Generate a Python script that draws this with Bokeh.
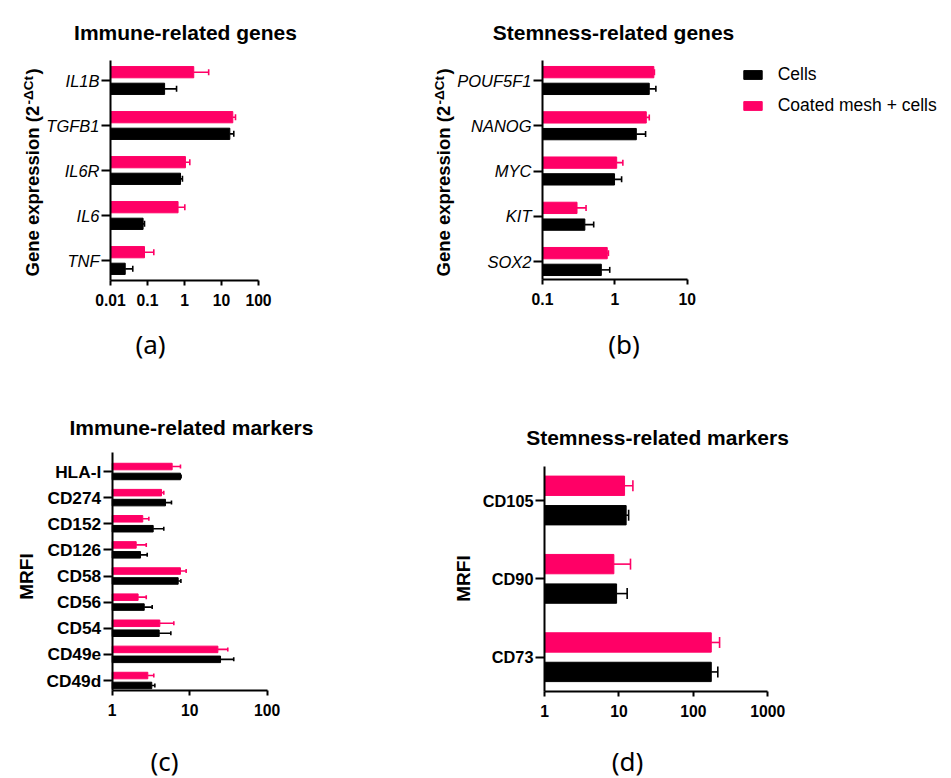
import math
from bokeh.plotting import figure
from bokeh.layouts import column, row
from bokeh.models import (ColumnDataSource, Range1d, FixedTicker, PrintfTickFormatter,
                          Whisker, TeeHead, Label, Legend, LegendItem)
from bokeh.transform import dodge
from bokeh.embed import file_html
from bokeh.resources import INLINE

PINK = "#ff0066"
BLACK = "#000000"
FONT = "Liberation Sans"

# ---------------- data ----------------
# (a) Immune-related genes (top to bottom)
genes_a = ["IL1B", "TGFB1", "IL6R", "IL6", "TNF"]
cells_a = [0.29, 16.8, 0.78, 0.076, 0.025]
cells_a_err = [0.32, 4.7, 0.10, 0.007, 0.015]
coated_a = [1.78, 20.2, 1.06, 0.67, 0.083]
coated_a_err = [2.72, 3.7, 0.33, 0.35, 0.065]
ticks_a = [0.01, 0.1, 1, 10, 100]
tick_labels_a = ["0.01", "0.1", "1", "10", "100"]

# (b) Stemness-related genes
genes_b = ["POUF5F1", "NANOG", "MYC", "KIT", "SOX2"]
cells_b = [2.99, 1.98, 0.99, 0.385, 0.65]
cells_b_err = [0.70, 0.68, 0.25, 0.125, 0.20]
coated_b = [3.46, 2.72, 1.06, 0.30, 0.785]
coated_b_err = [0.06, 0.27, 0.23, 0.10, 0.03]
ticks_b = [0.1, 1, 10]
tick_labels_b = ["0.1", "1", "10"]

# (c) Immune-related markers
markers_c = ["HLA-I", "CD274", "CD152", "CD126", "CD58", "CD56", "CD54", "CD49e", "CD49d"]
cells_c = [7.6, 4.87, 3.38, 2.32, 7.1, 2.59, 4.04, 25.0, 3.24]
cells_c_err = [0.15, 0.95, 1.25, 0.51, 0.6, 0.69, 1.67, 12.0, 0.31]
coated_c = [5.94, 4.33, 2.48, 2.04, 7.6, 2.16, 4.12, 23.1, 2.88]
coated_c_err = [1.66, 0.30, 0.49, 0.71, 1.4, 0.59, 2.12, 7.9, 0.56]
ticks_c = [1, 10, 100]
tick_labels_c = ["1", "10", "100"]

# (d) Stemness-related markers
markers_d = ["CD105", "CD90", "CD73"]
cells_d = [12.5, 9.3, 174.0]
cells_d_err = [1.0, 3.6, 39.0]
coated_d = [11.9, 8.55, 174.0]
coated_d_err = [3.5, 5.75, 51.0]
ticks_d = [1, 10, 100, 1000]
tick_labels_d = ["1", "10", "100", "1000"]

series_names = ["Cells", "Coated mesh + cells"]


def make_panel(cats, cells, cells_err, coated, coated_err, ticks, tick_labels,
               canvas, xpix, cpix, apix, cat_style, cat_size, cap, bar_h, off):
    """canvas=(X0,Y0,W,H) page px; xpix=(px of first tick, px of last tick);
    cpix=(px of first category, px of last category); apix=(axis top px, axis bottom px)."""
    X0, Y0, W, H = canvas
    lo, hi = ticks[0], ticks[-1]
    ppd = (xpix[1] - xpix[0]) / (math.log10(hi) - math.log10(lo))
    x_start = 10 ** (math.log10(lo) - (xpix[0] - X0) / ppd)
    x_end = 10 ** (math.log10(hi) + (X0 + W - xpix[1]) / ppd)
    n = len(cats)
    sp = (cpix[1] - cpix[0]) / (n - 1)
    y_bottom = (Y0 + H - cpix[0]) / sp
    y_top = (Y0 - cpix[0]) / sp
    ax_top = (apix[0] - cpix[0]) / sp
    ax_bot = (apix[1] - cpix[0]) / sp

    p = figure(width=W, height=H, x_axis_type="log",
               x_range=Range1d(x_start, x_end), y_range=Range1d(y_bottom, y_top),
               output_backend="svg", toolbar_location=None, title=None,
               min_border_left=0, min_border_right=0, min_border_top=0, min_border_bottom=0)
    p.outline_line_color = None
    p.grid.visible = False
    p.background_fill_color = "white"
    p.border_fill_color = "white"

    idx = list(range(n))
    renderers = []
    for vals, errs, color, shift in [(cells, cells_err, BLACK, off),
                                     (coated, coated_err, PINK, -off)]:
        src = ColumnDataSource(dict(y=idx, val=vals,
                                    up=[v + e for v, e in zip(vals, errs)]))
        r = p.hbar(y=dodge("y", shift), height=bar_h, left=lo, right="val",
                   source=src, fill_color=color, line_color=color)
        renderers.append(r)
        w = Whisker(base=dodge("y", shift), lower="val", upper="up",
                    dimension="width", source=src, line_color=color, line_width=1.6,
                    upper_head=TeeHead(size=cap, line_color=color, line_width=1.6),
                    lower_head=None, level="glyph")
        p.add_layout(w)

    xa = p.xaxis[0]
    ya = p.yaxis[0]
    for ax in (xa, ya):
        ax.axis_line_width = 2
        ax.axis_line_color = "black"
        ax.major_tick_line_width = 2
        ax.major_tick_line_color = "black"
        ax.major_tick_in = 0
        ax.minor_tick_line_color = None
        ax.major_label_text_color = "black"
        ax.major_label_text_font = FONT
        ax.axis_label = None

    xa.ticker = FixedTicker(ticks=ticks, minor_ticks=[])
    xa.formatter = PrintfTickFormatter(format="%g")
    xa.major_label_overrides = {t: l for t, l in zip(ticks, tick_labels)}
    xa.fixed_location = ax_bot
    xa.bounds = (lo, hi)
    xa.major_tick_out = 5
    xa.major_label_standoff = 8
    xa.major_label_text_font_size = "15.7px"
    xa.major_label_text_font_style = "bold"

    ya.ticker = FixedTicker(ticks=idx, minor_ticks=[])
    ya.major_label_overrides = {i: c for i, c in zip(idx, cats)}
    ya.fixed_location = lo
    ya.bounds = (ax_top, ax_bot)
    ya.major_tick_out = 9
    ya.major_label_standoff = 2
    ya.major_label_text_font_size = cat_size
    ya.major_label_text_font_style = cat_style
    return p, renderers


def add_text(p, canvas, X, Y, text, size, style="normal", font=FONT,
             align="center", baseline="middle", angle=0.0):
    X0, Y0, W, H = canvas
    p.add_layout(Label(x=X - X0, y=(Y0 + H) - Y, x_units="screen", y_units="screen",
                       text=text, text_font=font, text_font_size=size,
                       text_font_style=style, text_align=align,
                       text_baseline=baseline, angle=angle, text_color="black"))


UP = math.pi / 2
CA = (0, 0, 423, 393)
CB = (423, 0, 527, 393)
CC = (0, 393, 423, 384)
CD = (423, 393, 527, 384)

# ---- (a)
pa, _ = make_panel(genes_a, cells_a, cells_a_err, coated_a, coated_a_err, ticks_a, tick_labels_a,
                   CA, (110, 258), (80, 260), (60, 280), "italic", "16.5px", 6, 0.25, 0.185)
add_text(pa, CA, 185, 32, "Immune-related genes", "21px", "bold", baseline="alphabetic")
add_text(pa, CA, 31.5, 276, "Gene expression (2", "18.5px", "bold", align="left", angle=UP)
add_text(pa, CA, 27.5, 104, "-ΔCt", "13.5px", "bold", align="left", angle=UP)
add_text(pa, CA, 31.5, 74, ")", "18.5px", "bold", align="left", angle=UP)
add_text(pa, CA, 150, 343, "(a)", "26px", font="Noto Sans")

# ---- (b)
pb, rb = make_panel(genes_b, cells_b, cells_b_err, coated_b, coated_b_err, ticks_b, tick_labels_b,
                    CB, (542, 686.7), (80, 261), (60, 279), "italic", "16.5px", 6, 0.25, 0.185)
add_text(pb, CB, 613, 32, "Stemness-related genes", "21px", "bold", baseline="alphabetic")
add_text(pb, CB, 443, 276, "Gene expression (2", "18.5px", "bold", align="left", angle=UP)
add_text(pb, CB, 439, 104, "-ΔCt", "13.5px", "bold", align="left", angle=UP)
add_text(pb, CB, 443, 74, ")", "18.5px", "bold", align="left", angle=UP)
add_text(pb, CB, 623.5, 343, "(b)", "26px", font="Noto Sans")
legend = Legend(items=[LegendItem(label=series_names[0], renderers=[rb[0]]),
                       LegendItem(label=series_names[1], renderers=[rb[1]])],
                location=(740.7 - CB[0], CB[1] + CB[3] - 115.5), orientation="vertical",
                border_line_color=None, background_fill_alpha=0.0,
                padding=0, margin=0, glyph_width=23, glyph_height=11,
                label_standoff=14, spacing=10, label_height=20,
                label_text_font=FONT, label_text_font_size="17.5px",
                label_text_color="black")
pb.add_layout(legend)

# ---- (c)
pc, _ = make_panel(markers_c, cells_c, cells_c_err, coated_c, coated_c_err, ticks_c, tick_labels_c,
                   CC, (111.7, 266.7), (471, 680), (452, 690), "bold", "17.3px", 4, 0.25, 0.19)
add_text(pc, CC, 191, 427, "Immune-related markers", "21px", "bold", baseline="alphabetic")
add_text(pc, CC, 26, 576, "MRFI", "19px", "bold", angle=UP)
add_text(pc, CC, 164, 760, "(c)", "26px", font="Noto Sans")

# ---- (d)
pd_, _ = make_panel(markers_d, cells_d, cells_d_err, coated_d, coated_d_err, ticks_d, tick_labels_d,
                    CD, (544, 767.3), (500, 656.7), (466, 691), "bold", "16.3px", 11, 0.247, 0.188)
add_text(pd_, CD, 657, 437, "Stemness-related markers", "21px", "bold", baseline="alphabetic")
add_text(pd_, CD, 462.5, 578, "MRFI", "19px", "bold", angle=UP)
add_text(pd_, CD, 627, 760, "(d)", "26px", font="Noto Sans")

layout = column(row(pa, pb, spacing=0), row(pc, pd_, spacing=0), spacing=0)
open("out.html", "w").write(file_html(layout, INLINE))
